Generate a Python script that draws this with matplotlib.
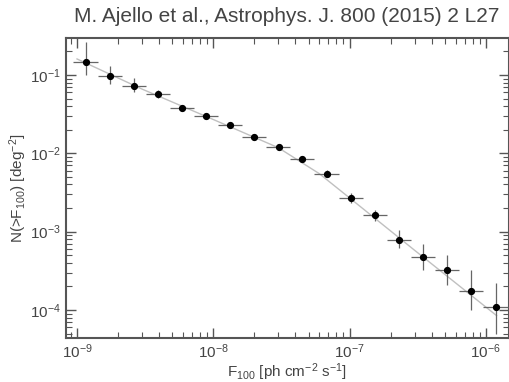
import matplotlib
matplotlib.use("Agg")
import matplotlib.pyplot as plt
from matplotlib.ticker import LogLocator, NullFormatter

plt.rcParams['font.family'] = ['Liberation Sans', 'DejaVu Sans']
plt.rcParams['mathtext.fontset'] = 'custom'
plt.rcParams['mathtext.rm'] = 'Liberation Sans'
plt.rcParams['mathtext.it'] = 'Liberation Sans'

# DATA
flux = [1.16e-9, 1.75e-9, 2.62e-9, 3.94e-9, 5.92e-9, 8.83e-9, 1.32e-8, 2.00e-8, 3.02e-8,
        4.49e-8, 6.78e-8, 1.02e-7, 1.53e-7, 2.29e-7, 3.46e-7, 5.21e-7, 7.76e-7, 1.19e-6]
bin_edges = [9.42e-10, 1.43e-9, 2.14e-9, 3.21e-9, 4.83e-9, 7.24e-9, 1.08e-8, 1.62e-8, 2.45e-8,
             3.68e-8, 5.53e-8, 8.30e-8, 1.25e-7, 1.87e-7, 2.81e-7, 4.25e-7, 6.38e-7, 9.59e-7, 1.46e-6]
n_gt = [0.145, 0.098, 0.0724, 0.0568, 0.0377, 0.0298, 0.0229, 0.0162, 0.0120,
        0.00845, 0.00548, 0.00269, 0.00161, 0.00079, 0.000471, 0.000321, 0.000177, 0.000108]
n_hi = [0.265, 0.131, 0.0908, 0.064, 0.0411, 0.0325, 0.025, 0.0177, 0.0131,
        0.0092, 0.0061, 0.00311, 0.00191, 0.00106, 0.000703, 0.000509, 0.000328, 0.000222]
n_lo = [0.100, 0.076, 0.0613, 0.0504, 0.0345, 0.0273, 0.021, 0.0148, 0.0110,
        0.0077, 0.0050, 0.00232, 0.00135, 0.00062, 0.000328, 0.000211, 0.000101, 4.88e-5]

# model curve (knots)
model_x = [1.0e-9, 3e-9, 1e-8, 3e-8, 6e-8, 1e-7, 3e-7, 1.2e-6]
model_y = [0.16, 0.066, 0.027, 0.0118, 0.0055, 0.0027, 0.00058, 8.5e-5]

title = "M. Ajello et al., Astrophys. J. 800 (2015) 2 L27"


def main():
    fig = plt.figure(figsize=(5.1, 3.82), dpi=100)
    ax = fig.add_axes([0.1294, 0.1152, 0.8686, 0.7853])

    ax.plot(model_x, model_y, color='#c0c0c0', lw=1.0, zorder=1)

    xerr = [[f - lo for f, lo in zip(flux, bin_edges[:-1])],
            [hi - f for f, hi in zip(flux, bin_edges[1:])]]
    yerr = [[n - lo for n, lo in zip(n_gt, n_lo)],
            [hi - n for n, hi in zip(n_gt, n_hi)]]
    ax.errorbar(flux, n_gt, xerr=xerr, yerr=yerr, fmt='o', color='black', ms=4.2,
                ecolor='#666666', elinewidth=0.9, capsize=0, zorder=3)

    ax.set_xscale('log')
    ax.set_yscale('log')
    ax.set_xlim(8.3e-10, 1.48e-6)
    ax.set_ylim(4.4e-5, 0.296)

    ax.xaxis.set_minor_locator(LogLocator(base=10, subs=range(2, 10), numticks=20))
    ax.yaxis.set_minor_locator(LogLocator(base=10, subs=range(2, 10), numticks=20))
    ax.xaxis.set_minor_formatter(NullFormatter())
    ax.yaxis.set_minor_formatter(NullFormatter())

    ax.tick_params(which='both', direction='in', top=True, right=True, colors='#555555',
                   labelcolor='#444444', labelsize=11)
    ax.tick_params(which='major', length=7, width=1.0)
    ax.tick_params(which='minor', length=4, width=0.8)
    for s in ax.spines.values():
        s.set_color('#555555')
        s.set_linewidth(1.5)

    ax.set_xlabel(r'F$_{100}$ [ph cm$^{-2}$ s$^{-1}$]', fontsize=11, color='#444444', labelpad=0)
    ax.set_ylabel(r'N(>F$_{100}$) [deg$^{-2}$]', fontsize=11, color='#444444', labelpad=1)
    fig.text(0.5627, 0.958, title, ha='center', va='center', fontsize=15, color='#444444')

    fig.savefig('out.png', dpi=100)


if __name__ == "__main__":
    main()
